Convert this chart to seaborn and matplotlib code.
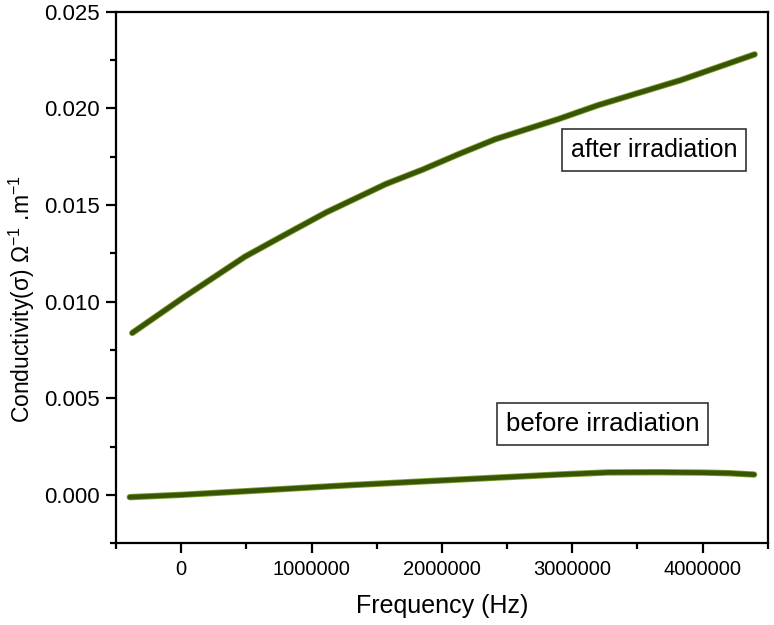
import matplotlib
matplotlib.use("Agg")
import matplotlib.pyplot as plt
import matplotlib.ticker as mticker
import seaborn as sns
import pandas as pd

# ---- data ----
after_frequency = [-376000, 17500, 489000, 781000, 1112000, 1570000, 1850000,
                   2130000, 2410000, 2893000, 3198000, 3834000, 4399000]
after_irradiation = [0.00838, 0.01022, 0.01233, 0.01341, 0.01462, 0.01609,
                     0.01683, 0.01764, 0.01841, 0.01945, 0.02017, 0.02147, 0.0228]
before_frequency = [-395000, 0, 501000, 1290000, 2244000, 2893000, 3275000,
                    3656000, 4013000, 4204000, 4395000]
before_irradiation = [-0.00012, 0.0, 0.00019, 0.00050, 0.00083, 0.00105,
                      0.00116, 0.00117, 0.00115, 0.00112, 0.00105]
x_ticks = [0, 1000000, 2000000, 3000000, 4000000]
y_ticks = [0.000, 0.005, 0.010, 0.015, 0.020, 0.025]

df = pd.DataFrame({
    "freq": after_frequency + before_frequency,
    "sigma": after_irradiation + before_irradiation,
    "state": ["after"] * len(after_frequency) + ["before"] * len(before_frequency),
})

sns.set_theme(style="ticks")
plt.rcParams["font.family"] = ["Liberation Sans", "DejaVu Sans"]
plt.rcParams["mathtext.fontset"] = "custom"
plt.rcParams["mathtext.rm"] = "Liberation Sans"
plt.rcParams["mathtext.it"] = "Liberation Sans:italic"
plt.rcParams["text.color"] = "black"
plt.rcParams["axes.labelcolor"] = "black"
plt.rcParams["xtick.color"] = "black"
plt.rcParams["ytick.color"] = "black"

fig = plt.figure(figsize=(7.74, 6.25), dpi=100)
ax = fig.add_axes([0.150, 0.131, 0.842, 0.850])

edge_color = "#7ea336"
line_color = "#3a5406"
sns.lineplot(data=df, x="freq", y="sigma", hue="state", sort=False,
             palette=[edge_color, edge_color], legend=False,
             linewidth=4.6, ax=ax, solid_capstyle="round")
sns.lineplot(data=df, x="freq", y="sigma", hue="state", sort=False,
             palette=[line_color, line_color], legend=False,
             linewidth=3.4, ax=ax, solid_capstyle="round")

ax.set_xlim(-500000, 4500000)
ax.set_ylim(-0.0025, 0.025)
ax.set_xticks(x_ticks)
ax.set_yticks(y_ticks)
ax.xaxis.set_minor_locator(mticker.MultipleLocator(500000))
ax.yaxis.set_minor_locator(mticker.MultipleLocator(0.0025))
ax.xaxis.set_major_formatter(mticker.FuncFormatter(lambda v, p: f"{int(round(v))}"))
ax.yaxis.set_major_formatter(mticker.FormatStrFormatter("%.3f"))

for s in ax.spines.values():
    s.set_linewidth(1.6)
    s.set_color("black")
ax.tick_params(which="major", direction="out", length=7, width=1.6,
               pad=5, colors="black", labelcolor="black")
ax.tick_params(axis="x", labelsize=14.5)
ax.tick_params(axis="y", labelsize=16)
ax.tick_params(which="minor", direction="out", length=4, width=1.6)
ax.tick_params(top=False, right=False, which="both")

ax.set_xlabel("Frequency (Hz)", fontsize=18, labelpad=11, color="black")
ax.set_ylabel("Conductivity(σ) Ω$^{-1}$ .m$^{-1}$", fontsize=16.5, color="black")
ax.yaxis.set_label_coords(-0.122, 0.46)

box = dict(boxstyle="square,pad=0.35", facecolor="white",
           edgecolor="#333333", linewidth=1.2)
ax.text(3626000, 0.01784, "after irradiation", fontsize=18,
        ha="center", va="center", bbox=box, color="black")
ax.text(3233000, 0.00369, "before irradiation", fontsize=18.5,
        ha="center", va="center", bbox=box, color="black")

fig.savefig("out.png", dpi=100)
